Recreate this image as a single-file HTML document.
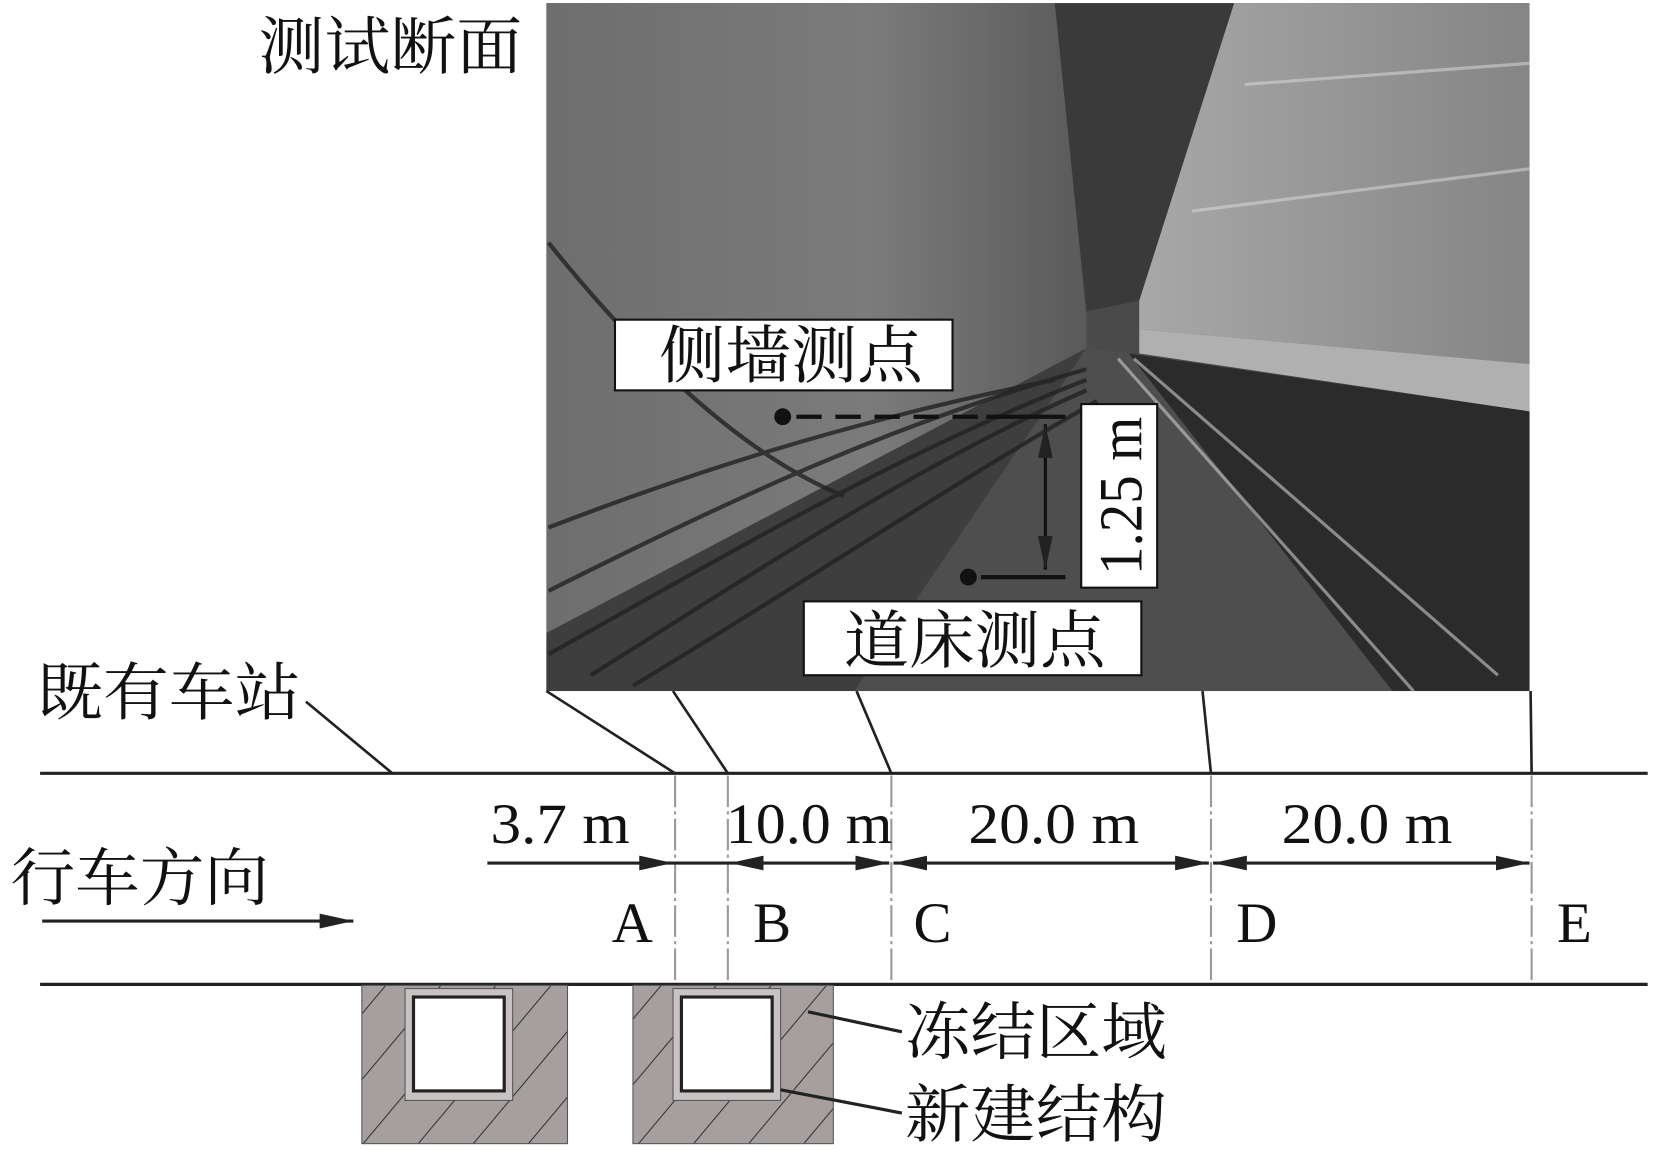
<!DOCTYPE html>
<html><head><meta charset="utf-8"><style>
html,body{margin:0;padding:0;background:#fff}
svg{display:block}
text{font-family:"Liberation Serif","Noto Serif CJK SC",serif;fill:#111}
</style></head><body>
<svg width="1654" height="1150" viewBox="0 0 1568 1090" preserveAspectRatio="none" xmlns="http://www.w3.org/2000/svg">
<defs>
<marker id="a2" markerWidth="32" markerHeight="14" refX="32" refY="7" orient="auto-start-reverse" markerUnits="userSpaceOnUse"><path d="M0,0 L32,7 L0,14z" fill="#222"/></marker>
<linearGradient id="wall" x1="0" y1="0" x2="1" y2="0"><stop offset="0" stop-color="#6e6e6e"/><stop offset="0.6" stop-color="#7c7b7b"/><stop offset="1" stop-color="#5a5a5a"/></linearGradient>
<linearGradient id="rw" x1="0" y1="0" x2="1" y2="0"><stop offset="0" stop-color="#a8a8a8"/><stop offset="1" stop-color="#858585"/></linearGradient>
<pattern id="hatch" width="40" height="40" patternUnits="userSpaceOnUse" patternTransform="rotate(40)"><rect width="40" height="40" fill="#a5a09f"/><line x1="0" y1="0" x2="0" y2="40" stroke="#333" stroke-width="2"/></pattern>
</defs>
<g>
<rect x="518" y="3" width="932" height="652" fill="#4a4a4a"/>
<polygon points="518,3 1000,3 1030,300 1030,335 518,600" fill="url(#wall)"/>
<polygon points="1000,3 1170,3 1080,285 1030,295" fill="#3a3a3a"/>
<polygon points="1170,3 1450,3 1450,345 1080,312 1080,285" fill="url(#rw)"/>
<polygon points="1080,312 1450,345 1450,390 1080,335" fill="#b0b0b0"/>
<polygon points="1070,335 1450,390 1450,655 1320,655" fill="#2b2b2b"/>
<polygon points="1030,330 1070,335 1320,655 810,655" fill="#4e4e4e"/>
<polygon points="518,600 1030,330 810,655 518,655" fill="#3e3e3e"/>
<g stroke="#222" stroke-width="4" fill="none" opacity="0.8">
<path d="M520,230 C600,330 700,430 800,470"/><path d="M520,560 C700,470 850,400 1030,350"/>
<path d="M520,620 C700,520 850,430 1030,360"/><path d="M560,640 C720,540 870,440 1030,370"/>
<path d="M520,500 C650,450 800,400 1000,360"/><path d="M600,650 C750,560 900,460 1040,380"/>
</g>
<g stroke="#ccc" stroke-width="3" opacity="0.6"><line x1="1060" y1="340" x2="1340" y2="655"/><line x1="1075" y1="340" x2="1420" y2="640"/></g>
<g stroke="#ddd" stroke-width="3" fill="none" opacity="0.5"><path d="M1180,80 L1450,60"/><path d="M1130,200 L1450,160"/></g>
</g>
<rect x="583" y="303" width="320" height="67" fill="#fff" stroke="#111" stroke-width="2"/>
<text x="625" y="358" font-size="60" textLength="250" lengthAdjust="spacingAndGlyphs">侧墙测点</text>
<rect x="762" y="570" width="320" height="70" fill="#fff" stroke="#111" stroke-width="2"/>
<text x="800" y="628" font-size="60" textLength="248" lengthAdjust="spacingAndGlyphs">道床测点</text>
<circle cx="742" cy="395" r="8" fill="#111"/>
<line x1="755" y1="395" x2="935" y2="395" stroke="#111" stroke-width="4" stroke-dasharray="24,13"/>
<line x1="935" y1="395" x2="1010" y2="395" stroke="#111" stroke-width="4"/>
<circle cx="918" cy="547" r="8" fill="#111"/>
<line x1="930" y1="547" x2="1010" y2="547" stroke="#111" stroke-width="4"/>
<line x1="991" y1="402" x2="991" y2="540" stroke="#111" stroke-width="3" marker-start="url(#a2)" marker-end="url(#a2)"/>
<rect x="1025" y="383" width="72" height="174" fill="#fff" stroke="#111" stroke-width="2"/>
<text transform="translate(1082,470) rotate(-90)" font-size="58" text-anchor="middle" textLength="150" lengthAdjust="spacingAndGlyphs">1.25 m</text>
<text x="245" y="65" font-size="60" textLength="250" lengthAdjust="spacingAndGlyphs">测试断面</text>
<text x="35" y="677" font-size="60" textLength="250" lengthAdjust="spacingAndGlyphs">既有车站</text>
<g stroke="#222" stroke-width="2.5" fill="none">
<line x1="290" y1="665" x2="372" y2="733"/>
<line x1="518" y1="655" x2="640" y2="733"/>
<line x1="638" y1="655" x2="690" y2="733"/>
<line x1="812" y1="655" x2="845" y2="733"/>
<line x1="1140" y1="655" x2="1148" y2="733"/>
<line x1="1451" y1="655" x2="1452" y2="733"/>
</g>
<line x1="38" y1="733" x2="1562" y2="733" stroke="#222" stroke-width="3"/>
<line x1="38" y1="933" x2="1562" y2="933" stroke="#222" stroke-width="3"/>
<g stroke="#999" stroke-width="2" stroke-dasharray="30,4,3,4">
<line x1="640" y1="735" x2="640" y2="931"/><line x1="690" y1="735" x2="690" y2="931"/>
<line x1="845" y1="735" x2="845" y2="931"/><line x1="1148" y1="735" x2="1148" y2="931"/>
<line x1="1452" y1="735" x2="1452" y2="931"/>
</g>
<g font-size="54">
<text x="465" y="799" textLength="132" lengthAdjust="spacingAndGlyphs">3.7 m</text>
<text x="688" y="799" textLength="158" lengthAdjust="spacingAndGlyphs">10.0 m</text>
<text x="918" y="799" textLength="162" lengthAdjust="spacingAndGlyphs">20.0 m</text>
<text x="1215" y="799" textLength="162" lengthAdjust="spacingAndGlyphs">20.0 m</text>
<text x="580" y="893">A</text><text x="714" y="893">B</text><text x="866" y="893">C</text><text x="1172" y="893">D</text><text x="1476" y="893">E</text>
</g>
<g stroke="#222" stroke-width="3">
<line x1="462" y1="818" x2="638" y2="818" marker-end="url(#a2)"/>
<line x1="638" y1="818" x2="692" y2="818"/>
<line x1="692" y1="818" x2="843" y2="818" marker-start="url(#a2)" marker-end="url(#a2)"/>
<line x1="847" y1="818" x2="1146" y2="818" marker-start="url(#a2)" marker-end="url(#a2)"/>
<line x1="1150" y1="818" x2="1450" y2="818" marker-start="url(#a2)" marker-end="url(#a2)"/>
<line x1="40" y1="873" x2="335" y2="873" marker-end="url(#a2)"/>
</g>
<text x="10" y="853" font-size="60" textLength="245" lengthAdjust="spacingAndGlyphs">行车方向</text>
<g>
<rect x="343" y="934" width="195" height="150" fill="url(#hatch)" stroke="#555" stroke-width="1"/>
<rect x="384" y="937" width="102" height="106" fill="#c8c3c2" stroke="#555"/>
<rect x="392" y="945" width="86" height="89" fill="#fff" stroke="#222" stroke-width="3"/>
<rect x="600" y="934" width="190" height="150" fill="url(#hatch)" stroke="#555" stroke-width="1"/>
<rect x="638" y="937" width="102" height="106" fill="#c8c3c2" stroke="#555"/>
<rect x="646" y="945" width="86" height="89" fill="#fff" stroke="#222" stroke-width="3"/>
</g>
<line x1="766" y1="959" x2="855" y2="978" stroke="#222" stroke-width="3"/>
<line x1="740" y1="1033" x2="855" y2="1055" stroke="#222" stroke-width="3"/>
<text x="858" y="999" font-size="60" textLength="248" lengthAdjust="spacingAndGlyphs">冻结区域</text>
<text x="858" y="1077" font-size="60" textLength="248" lengthAdjust="spacingAndGlyphs">新建结构</text>
</svg>
</body></html>
